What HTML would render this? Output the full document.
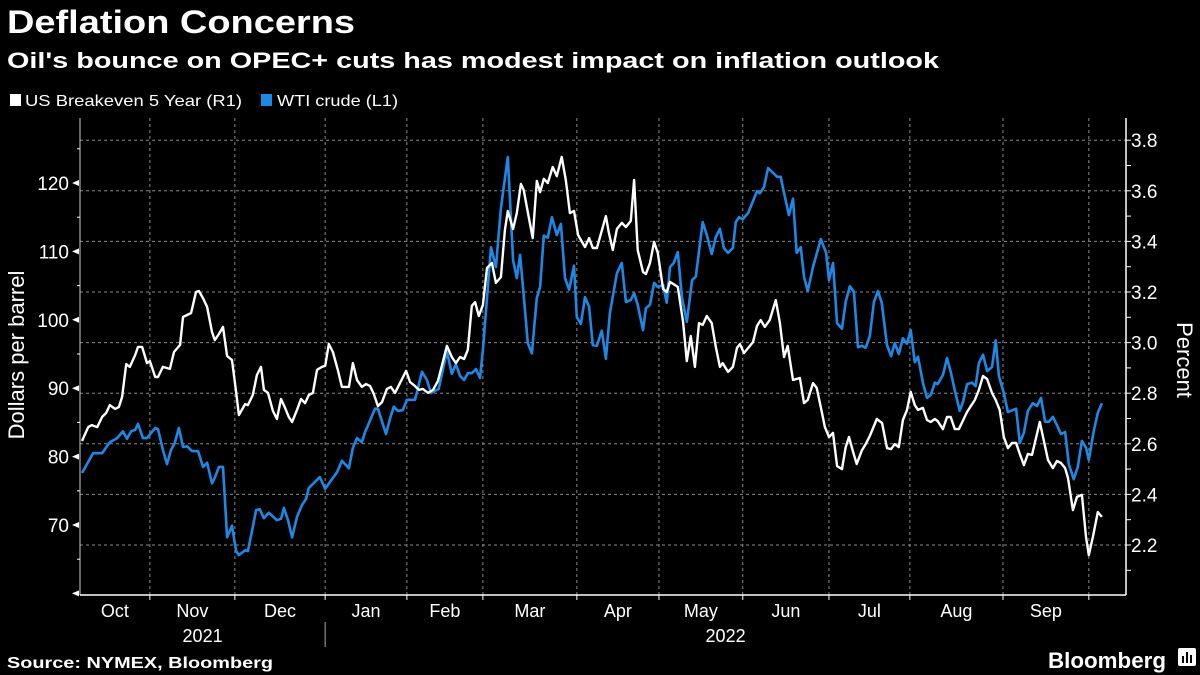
<!DOCTYPE html>
<html><head><meta charset="utf-8">
<style>
html,body{margin:0;padding:0;background:#000;}
svg{display:block;}
text{font-family:"Liberation Sans",sans-serif;fill:#fff;}
</style></head>
<body>
<svg id="chart" width="1200" height="675" viewBox="0 0 1200 675" xmlns="http://www.w3.org/2000/svg">
<rect x="0" y="0" width="1200" height="675" fill="#000"/>
<text x="7" y="33" font-size="32" font-weight="bold" textLength="348" lengthAdjust="spacingAndGlyphs">Deflation Concerns</text>
<text x="7" y="68" font-size="22" font-weight="bold" textLength="932" lengthAdjust="spacingAndGlyphs">Oil's bounce on OPEC+ cuts has modest impact on inflation outlook</text>
<g>
 <g>
  <rect x="10" y="94" width="11" height="12" fill="#fff"/>
  <text x="25" y="106" font-size="16" textLength="217" lengthAdjust="spacingAndGlyphs">US Breakeven 5 Year (R1)</text>
 </g>
 <g>
  <rect x="261" y="94" width="11" height="12" fill="#1e88e5"/>
  <text x="277" y="106" font-size="16" textLength="121" lengthAdjust="spacingAndGlyphs">WTI crude (L1)</text>
 </g>
</g>
<g id="grid"></g>
<g id="axes"></g>
<g id="series"></g>
<text transform="translate(24,355) rotate(-90)" text-anchor="middle" font-size="22">Dollars per barrel</text>
<text transform="translate(1177,360) rotate(90)" text-anchor="middle" font-size="22">Percent</text>
<text x="7" y="668" font-size="16" font-weight="bold" textLength="266" lengthAdjust="spacingAndGlyphs">Source: NYMEX, Bloomberg</text>
<g>
 <text x="1048" y="668" font-size="22" font-weight="bold" textLength="118" lengthAdjust="spacingAndGlyphs">Bloomberg</text>
 <rect x="1178" y="648" width="18" height="18" rx="2" fill="#fff"/>
 <rect x="1182" y="656" width="2" height="7" fill="#000"/>
 <rect x="1186" y="652" width="2" height="11" fill="#000"/>
 <rect x="1190" y="655" width="2" height="8" fill="#000"/>
</g>
</svg>
<script>
// ---- data ----
const monthLabels = ["Oct","Nov","Dec","Jan","Feb","Mar","Apr","May","Jun","Jul","Aug","Sep"];
const monthStartDay = [0,17.1,37.9,60,80,98.6,121.6,141.7,162.2,183.3,203.1,225.9,246.9];
const yearLabels = ["2021","2022"];
const yearStartDay = [0,60,256];
const leftTicks = [70,80,90,100,110,120];
const rightTicks = ["2.2","2.4","2.6","2.8","3.0","3.2","3.4","3.6","3.8"];
const wtiDay = [0.5,3.2,5.4,7.3,9.1,10.5,11.5,12.5,13.5,14.2,15.4,16.4,18.4,19.1,20.3,21.3,22.3,23.2,24.2,25.2,26.2,27.4,28.9,30.1,31.1,32.3,33.0,34.0,35.0,36.0,37.2,38.2,38.9,40.4,41.1,42.3,43.1,44.0,45.0,46.2,48.2,49.2,49.9,50.9,51.9,53.1,54.3,55.3,56.0,58.7,60.0,62.9,64.1,65.8,66.8,67.8,69.0,69.7,72.2,72.9,74.9,75.9,76.8,77.8,79.0,80.0,82.0,83.7,84.9,85.9,87.8,89.8,91.0,92.0,93.0,94.0,94.9,95.9,96.9,97.9,98.6,100.6,101.8,103.0,104.7,106.0,106.9,107.7,108.9,109.6,110.6,111.8,112.6,113.5,114.5,115.5,116.7,117.7,118.7,119.7,120.9,121.6,122.6,123.6,124.6,125.5,126.5,127.7,128.7,129.7,131.4,132.6,133.6,134.8,135.6,136.5,137.8,138.5,139.5,140.5,141.4,142.7,143.6,144.4,145.3,146.3,147.3,148.5,149.8,150.7,152.4,153.4,154.6,155.6,156.6,157.6,158.6,159.8,160.5,161.3,162.2,163.5,165.7,166.4,167.4,168.4,170.6,171.5,172.0,173.5,174.5,175.4,176.4,177.2,178.1,179.4,181.3,182.6,183.3,184.3,185.3,186.5,187.4,188.4,189.4,190.4,191.4,192.3,193.3,194.3,195.3,196.2,197.5,198.5,199.4,200.4,201.4,202.4,203.3,204.3,205.1,206.3,207.3,208.2,209.2,209.9,211.2,212.2,213.1,214.1,215.3,216.1,217.1,218.3,219.2,220.0,221.0,222.0,223.2,224.1,224.9,226.1,227.1,229.1,230.0,231.0,232.0,233.2,234.2,235.2,236.2,237.1,238.1,239.1,240.1,241.1,242.0,243.2,244.2,245.2,246.2,246.9,248.1,249.1,250.1];
const wtiPrice = [77.6,80.5,80.5,82.1,82.7,83.7,82.6,83.7,83.9,84.8,82.7,82.7,84.2,84.0,81.0,78.9,81.0,82.0,84.2,81.4,81.5,80.8,80.8,78.5,79.1,76.1,76.9,78.5,78.5,68.2,69.9,66.2,65.6,66.3,66.2,69.7,72.2,72.3,71.0,71.8,70.7,70.9,72.5,70.7,68.2,71.2,72.9,73.8,75.4,77.0,75.3,77.7,79.4,78.3,81.3,82.7,82.1,83.5,87.0,87.0,83.3,85.6,87.3,86.7,86.8,88.3,88.3,92.4,91.2,89.3,89.9,95.4,92.1,93.5,91.8,91.2,92.2,92.2,92.8,91.5,95.6,110.6,107.7,116.3,123.8,108.7,106.1,109.5,101.4,96.6,95.1,103.2,104.8,112.3,112.0,115.0,112.4,114.0,106.1,104.4,107.9,100.4,99.4,103.3,101.9,96.3,96.2,98.4,94.3,101.0,106.8,108.3,102.6,102.9,103.9,102.2,98.5,101.7,102.2,105.4,104.8,105.1,102.5,107.7,108.3,109.9,103.3,99.7,105.8,106.3,114.3,112.4,109.6,112.1,113.3,110.5,109.8,110.5,114.3,115.0,114.7,115.6,118.8,118.5,119.4,122.2,120.9,120.9,119.4,115.3,117.7,109.8,110.6,106.3,104.2,107.7,111.8,109.8,105.8,108.3,99.5,98.7,102.6,104.9,104.1,96.0,96.2,95.9,97.6,102.6,104.2,102.5,96.3,94.7,96.6,95.0,97.3,96.5,98.5,93.8,94.6,90.8,88.6,89.0,90.8,90.6,91.9,94.4,92.4,89.7,86.7,88.0,90.6,90.8,90.3,93.7,94.9,92.5,93.1,97.0,91.8,89.3,86.5,87.0,82.0,83.5,86.7,87.8,87.4,88.6,85.1,85.1,85.8,84.6,83.3,83.6,78.9,76.7,78.5,82.3,81.3,79.5,83.7,86.4,87.8];
const beDay = [0.5,2.0,2.9,4.2,5.4,6.4,7.3,8.6,9.5,10.3,11.3,12.2,13.5,14.2,15.2,16.4,17.1,18.4,19.1,20.3,22.0,23.0,24.5,25.2,27.2,28.4,29.1,30.1,31.1,32.3,33.0,34.0,35.0,36.0,37.2,38.2,38.9,40.4,41.1,42.3,43.3,44.3,45.0,46.0,47.2,48.2,49.2,50.2,51.1,51.9,53.1,54.1,55.1,56.0,57.0,58.0,59.2,60.0,60.9,61.9,63.1,64.1,65.8,66.8,67.8,69.0,70.0,71.0,71.9,72.9,73.9,75.1,76.1,77.1,79.8,80.8,82.0,83.0,83.9,85.2,86.4,87.6,88.8,89.8,91.0,92.0,93.0,94.0,94.9,95.9,96.7,97.6,98.6,99.6,100.8,101.8,103.0,104.0,104.7,106.0,106.9,107.9,108.6,109.6,110.8,111.8,112.6,113.5,114.5,115.7,116.7,117.9,118.9,119.9,120.9,121.9,123.6,124.6,125.5,126.5,128.7,129.4,130.4,131.4,132.6,133.6,134.8,135.6,136.5,137.8,138.5,139.5,140.5,141.4,142.7,143.6,144.4,146.3,147.6,148.5,149.5,150.5,151.5,152.4,153.4,154.6,155.6,156.6,157.3,158.6,159.8,160.8,161.5,162.5,164.7,165.7,166.6,167.6,168.8,170.3,171.3,172.3,173.2,174.5,176.2,177.2,178.1,179.4,180.3,181.3,182.3,183.3,184.3,185.3,186.5,187.4,188.2,189.2,190.1,191.4,192.3,193.3,195.0,196.3,197.5,198.5,199.4,200.4,201.4,202.4,203.3,204.3,205.1,206.3,207.3,208.2,209.2,209.9,211.2,212.2,213.1,214.1,215.1,217.1,219.0,220.0,221.0,222.0,223.2,224.1,225.1,226.1,227.1,228.1,229.1,230.0,231.0,232.0,233.0,234.9,236.9,238.1,239.1,240.1,241.1,241.8,243.0,244.0,245.2,246.2,246.9,247.9,249.1,250.1];
const beRate = [2.611,2.666,2.674,2.666,2.706,2.722,2.753,2.738,2.745,2.785,2.915,2.904,2.951,2.983,2.983,2.919,2.927,2.864,2.864,2.904,2.896,2.963,2.991,3.101,3.117,3.200,3.204,3.176,3.141,3.042,3.010,3.034,3.062,2.947,2.931,2.805,2.714,2.757,2.753,2.793,2.872,2.904,2.813,2.801,2.730,2.698,2.777,2.742,2.706,2.686,2.734,2.777,2.761,2.793,2.801,2.892,2.904,2.908,2.994,2.963,2.892,2.825,2.825,2.919,2.852,2.825,2.836,2.828,2.797,2.749,2.765,2.817,2.825,2.801,2.888,2.844,2.828,2.813,2.817,2.801,2.813,2.848,2.923,2.987,2.943,2.919,2.943,2.935,2.971,3.145,3.160,3.105,3.149,3.295,3.315,3.236,3.259,3.445,3.520,3.449,3.512,3.627,3.603,3.516,3.413,3.639,3.595,3.647,3.631,3.694,3.658,3.734,3.643,3.512,3.520,3.425,3.378,3.413,3.374,3.374,3.500,3.437,3.366,3.449,3.473,3.457,3.481,3.643,3.366,3.279,3.271,3.315,3.398,3.354,3.212,3.200,3.240,3.220,3.081,2.927,3.026,2.904,3.077,3.070,3.105,3.077,2.983,2.904,2.919,2.884,2.904,2.979,2.994,2.959,3.002,3.066,3.089,3.062,3.089,3.168,3.077,2.943,2.987,2.852,2.860,2.761,2.773,2.840,2.821,2.745,2.666,2.627,2.643,2.512,2.500,2.587,2.627,2.568,2.520,2.575,2.599,2.631,2.698,2.682,2.583,2.579,2.599,2.587,2.694,2.734,2.805,2.753,2.734,2.742,2.694,2.686,2.698,2.690,2.658,2.706,2.706,2.658,2.658,2.726,2.773,2.813,2.868,2.856,2.801,2.773,2.734,2.627,2.583,2.603,2.603,2.560,2.516,2.560,2.556,2.686,2.536,2.504,2.532,2.524,2.504,2.465,2.338,2.390,2.398,2.232,2.160,2.232,2.330,2.311];

// ---- scales ----
const X0 = 80, X1 = 1126, Y0 = 118, Y1 = 595, DAYS = 256;
const xScale = d => X0 + d * (X1 - X0) / DAYS;
const yLeft = v => 525 - (v - 70) * 6.84;
const yRight = v => 545 - (v - 2.2) * 253;
const NS = "http://www.w3.org/2000/svg";
function mk(tag, attrs, parent) {
  const e = document.createElementNS(NS, tag);
  for (const k in attrs) e.setAttribute(k, attrs[k]);
  parent.appendChild(e);
  return e;
}
const grid = document.getElementById('grid');
const axes = document.getElementById('axes');
const series = document.getElementById('series');

// horizontal gridlines (right axis majors)
rightTicks.forEach(t => {
  const y = yRight(parseFloat(t));
  const l = mk('line', {x1: X0, x2: X1, y1: y, y2: y, stroke: '#8a8a8a', 'stroke-width': 1, 'stroke-dasharray': '3,3'}, grid);
  
  
});
// vertical gridlines at month starts
monthStartDay.slice(1).forEach(d => {
  const x = xScale(d);
  const l = mk('line', {x1: x, x2: x, y1: Y0, y2: Y1, stroke: '#8a8a8a', 'stroke-width': 1, 'stroke-dasharray': '3,3'}, grid);
  
  
  const tk = mk('line', {x1: x, x2: x, y1: Y1, y2: Y1 + 5, stroke: '#fff', 'stroke-width': 1}, axes);
  
  
});
// axis lines
const la = mk('line', {x1: X0, x2: X0, y1: Y0, y2: Y1, stroke: '#ccc', 'stroke-width': 1}, axes);


const ra = mk('line', {x1: X1, x2: X1, y1: Y0, y2: Y1, stroke: '#fff', 'stroke-width': 1.5}, axes);


const ba = mk('line', {x1: X0, x2: X1, y1: Y1, y2: Y1, stroke: '#fff', 'stroke-width': 1.5}, axes);



// left ticks: major triangles + minor
for (let v = 60; v <= 125; v += 5) {
  const y = yLeft(v);
  if (v % 10 === 0) {
    const tri = mk('polygon', {points: `${X0-1},${y-3} ${X0-1},${y+3} ${X0-8},${y}`, fill: '#fff'}, axes);
    
    
  } else {
    const t = mk('line', {x1: X0 - 3, x2: X0, y1: y, y2: y, stroke: '#fff', 'stroke-width': 1}, axes);
    
    
  }
}
leftTicks.forEach(v => {
  const t = mk('text', {x: X0 - 11, y: yLeft(v) + 7, 'text-anchor': 'end', 'font-size': 19}, axes);
  t.textContent = String(v);
  
  
});
// right ticks
for (let i = 0; i <= 17; i++) {
  const v = 2.2 + i * 0.1 - 0.1;
  const y = yRight(v);
  if (y < Y0 || y > Y1) continue;
  const t = mk('line', {x1: X1, x2: X1 + 5, y1: y, y2: y, stroke: '#fff', 'stroke-width': 1}, axes);
  
  
}
rightTicks.forEach(s => {
  const t = mk('text', {x: X1 + 5, y: yRight(parseFloat(s)) + 7, 'font-size': 19}, axes);
  t.textContent = s;
  
  
});
// month labels
monthLabels.forEach((m, i) => {
  const xa = xScale(monthStartDay[i]), xb = xScale(monthStartDay[i + 1]);
  const t = mk('text', {x: (xa + xb) / 2, y: 617, 'text-anchor': 'middle', 'font-size': 18}, axes);
  t.textContent = m;
  
  
});
yearLabels.forEach((yr, i) => {
  const xa = xScale(yearStartDay[i]), xb = xScale(yearStartDay[i + 1]);
  const t = mk('text', {x: (xa + xb) / 2, y: 642, 'text-anchor': 'middle', 'font-size': 18}, axes);
  t.textContent = yr;
  
  
});
const sep = mk('line', {x1: xScale(yearStartDay[1]), x2: xScale(yearStartDay[1]), y1: 622, y2: 647, stroke: '#aaa', 'stroke-width': 1}, axes);



// series
function pathFor(days, vals, yf) {
  const n = Math.min(days.length, vals.length);
  let d = '';
  for (let i = 0; i < n; i++) d += (i ? 'L' : 'M') + xScale(days[i]).toFixed(1) + ',' + yf(vals[i]).toFixed(1);
  return d;
}
const wti = mk('path', {d: pathFor(wtiDay, wtiPrice, yLeft), fill: 'none', stroke: '#1e88e5', 'stroke-width': 2.6, 'stroke-linejoin': 'round'}, series);


const be = mk('path', {d: pathFor(beDay, beRate, yRight), fill: 'none', stroke: '#ffffff', 'stroke-width': 2.4, 'stroke-linejoin': 'round'}, series);


</script>
</body></html>
